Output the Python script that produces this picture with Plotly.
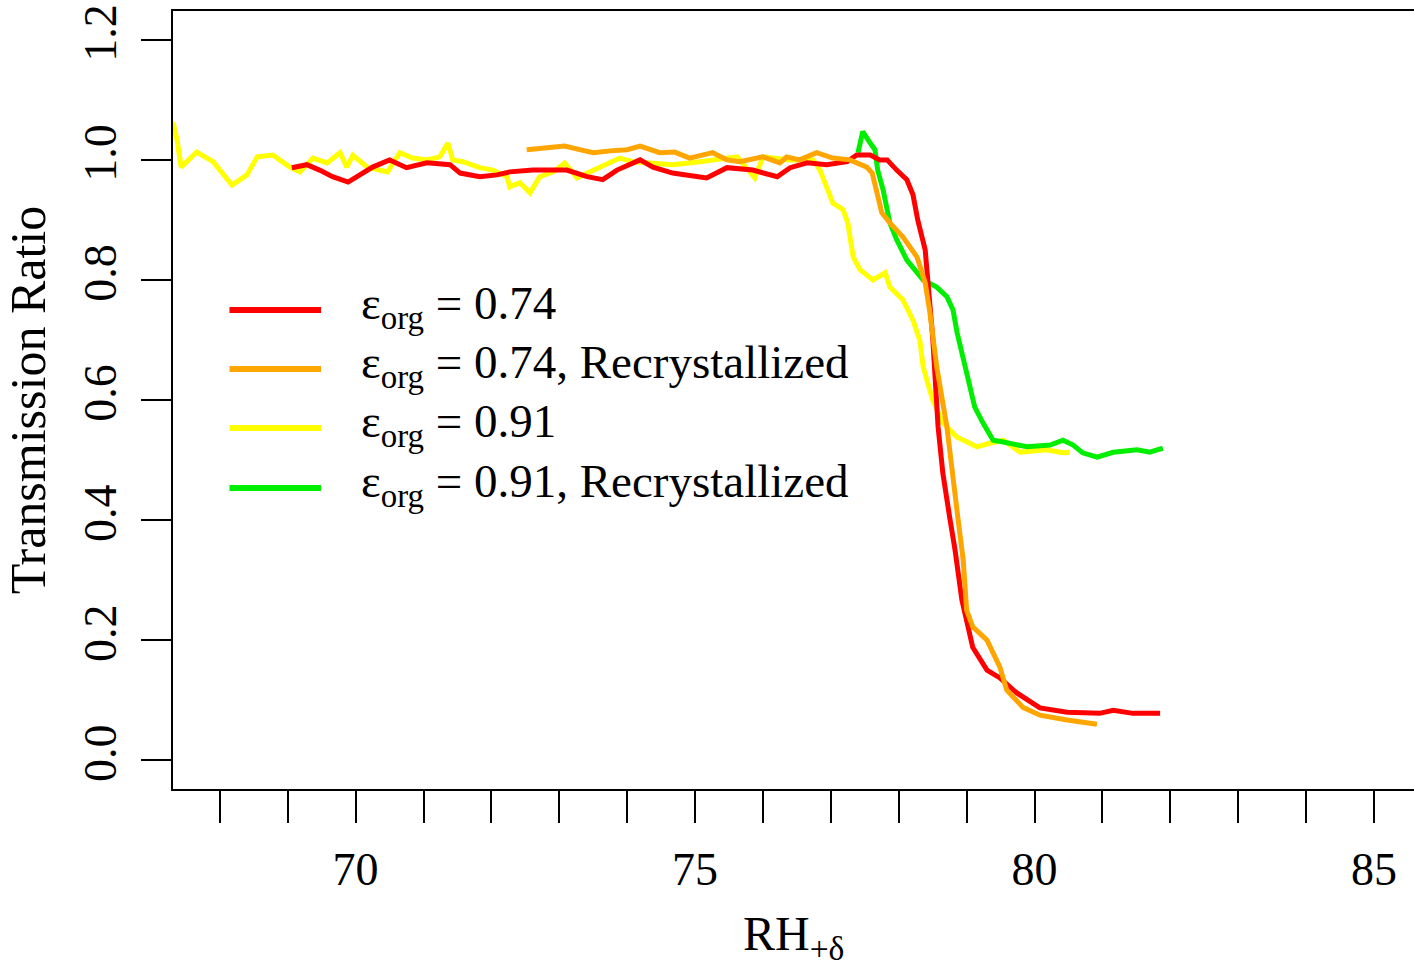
import plotly.graph_objects as go

# ---- data ----
red_x = [69.06, 69.28, 69.47, 69.66, 69.89, 70.06, 70.25, 70.50, 70.75, 71.05, 71.39, 71.54, 71.83, 72.08,
         72.27, 72.61, 73.11, 73.41, 73.64, 73.85, 74.19, 74.38, 74.67, 75.17, 75.47, 75.85, 76.21, 76.40,
         76.65, 76.94, 77.24, 77.38, 77.58, 77.72, 77.83, 77.97, 78.12, 78.21, 78.28, 78.39, 78.43, 78.50,
         78.58, 78.65, 78.75, 78.83, 78.93, 79.00, 79.09, 79.30, 79.49, 79.74, 80.08, 80.48, 80.96, 81.16,
         81.45, 81.85]
red_y = [0.987, 0.992, 0.983, 0.972, 0.963, 0.975, 0.988, 1.000, 0.987, 0.995, 0.992, 0.978, 0.972, 0.975,
         0.980, 0.983, 0.983, 0.972, 0.967, 0.983, 1.000, 0.988, 0.978, 0.970, 0.987, 0.983, 0.972, 0.987,
         0.995, 0.992, 0.997, 1.008, 1.008, 1.000, 1.000, 0.983, 0.967, 0.942, 0.900, 0.850, 0.790, 0.705,
         0.555, 0.478, 0.405, 0.350, 0.267, 0.228, 0.188, 0.150, 0.137, 0.112, 0.087, 0.080, 0.078, 0.083,
         0.078, 0.078]

orange_x = [72.52, 72.79, 73.08, 73.30, 73.50, 73.75, 74.00, 74.19, 74.48, 74.70, 74.92, 75.26, 75.47, 75.66,
            76.00, 76.25, 76.35, 76.54, 76.79, 77.03, 77.28, 77.53, 77.61, 77.68, 77.75, 77.87, 78.06, 78.27,
            78.39, 78.46, 78.56, 78.71, 78.80, 78.87, 78.95, 79.00, 79.09, 79.30, 79.49, 79.59, 79.83, 80.08,
            80.48, 80.92]
orange_y = [1.017, 1.020, 1.023, 1.017, 1.012, 1.015, 1.017, 1.023, 1.012, 1.013, 1.003, 1.012, 1.000, 0.997,
            1.005, 0.995, 1.005, 1.000, 1.012, 1.003, 1.000, 0.988, 0.978, 0.945, 0.912, 0.895, 0.872, 0.838,
            0.795, 0.745, 0.655, 0.555, 0.478, 0.405, 0.333, 0.250, 0.222, 0.200, 0.155, 0.117, 0.088, 0.075,
            0.067, 0.060]

yellow_x = [67.31, 67.37, 67.43, 67.66, 67.90, 68.18, 68.40, 68.55, 68.78, 69.03, 69.18, 69.37, 69.58, 69.77,
            69.87, 69.96, 70.17, 70.36, 70.47, 70.65, 70.84, 71.05, 71.24, 71.36, 71.43, 71.58, 71.83, 72.02,
            72.23, 72.27, 72.42, 72.57, 72.71, 72.91, 73.08, 73.26, 73.45, 73.70, 73.89, 74.08, 74.33, 74.67,
            75.07, 75.62, 75.88, 76.00, 76.40, 76.74, 76.84, 76.96, 77.03, 77.18, 77.25, 77.33, 77.43, 77.62,
            77.80, 77.87, 78.06, 78.21, 78.31, 78.36, 78.50, 78.65, 78.86, 79.01, 79.15, 79.34, 79.54, 79.79,
            80.18, 80.42, 80.52]
yellow_y = [1.063, 1.033, 0.988, 1.013, 0.997, 0.958, 0.975, 1.005, 1.008, 0.988, 0.980, 1.003, 0.995, 1.012,
            0.988, 1.008, 0.988, 0.983, 0.980, 1.012, 1.003, 1.000, 1.005, 1.028, 1.000, 0.997, 0.987, 0.983,
            0.972, 0.955, 0.962, 0.945, 0.972, 0.980, 0.995, 0.970, 0.980, 0.995, 1.003, 0.997, 0.995, 0.992,
            0.997, 1.005, 0.970, 1.005, 1.000, 1.000, 0.983, 0.945, 0.928, 0.917, 0.895, 0.838, 0.817, 0.800,
            0.812, 0.788, 0.767, 0.733, 0.700, 0.655, 0.600, 0.562, 0.538, 0.530, 0.522, 0.528, 0.533, 0.513,
            0.517, 0.512, 0.513]

green_x = [77.40, 77.47, 77.58, 77.65, 77.69, 77.77, 77.87, 77.97, 78.12, 78.36, 78.56, 78.71, 78.80, 78.86,
           78.98, 79.05, 79.12, 79.24, 79.39, 79.54, 79.89, 80.23, 80.42, 80.57, 80.71, 80.92, 81.16, 81.51,
           81.70, 81.89]
green_y = [1.012, 1.047, 1.028, 1.017, 0.983, 0.950, 0.895, 0.867, 0.833, 0.800, 0.788, 0.772, 0.750, 0.712,
           0.655, 0.622, 0.588, 0.562, 0.533, 0.530, 0.522, 0.525, 0.533, 0.525, 0.512, 0.505, 0.513, 0.517,
           0.513, 0.520]

series_names = ["ε<sub>org</sub> = 0.74", "ε<sub>org</sub> = 0.74, Recrystallized",
                "ε<sub>org</sub> = 0.91", "ε<sub>org</sub> = 0.91, Recrystallized"]
series_colors = ["#ff0000", "#ffa500", "#ffff00", "#00ee00"]

x_tickvals = [70, 75, 80, 85]
y_tickvals = [0.0, 0.2, 0.4, 0.6, 0.8, 1.0, 1.2]
x_title = "RH<sub>+δ</sub>"
y_title = "Transmission Ratio"

FONT = "Liberation Serif"

fig = go.Figure()
data = {
    0: (red_x, red_y),
    1: (orange_x, orange_y),
    2: (yellow_x, yellow_y),
    3: (green_x, green_y),
}
for i in [2, 3, 0, 1]:
    xs, ys = data[i]
    fig.add_trace(go.Scatter(x=xs, y=ys, mode="lines", name=series_names[i],
                             line=dict(color=series_colors[i], width=5), showlegend=False))

# manual legend (R style)
leg_rows = [0.6157, 0.5398, 0.4640, 0.3869]
for i, yy in enumerate(leg_rows):
    fig.add_shape(type="line", xref="paper", yref="paper", x0=0.0455, x1=0.1193, y0=yy, y1=yy,
                  line=dict(color=series_colors[i], width=6))
    fig.add_annotation(xref="paper", yref="paper", x=0.1495, y=yy + 0.004, xanchor="left", yanchor="middle",
                       text=series_names[i], showarrow=False,
                       font=dict(family=FONT, size=47, color="black"))

# x-axis title (placed as R does, below the tick labels)
fig.add_annotation(xref="paper", yref="paper", x=0.5, y=-0.19, xanchor="center", yanchor="middle",
                   text=x_title, showarrow=False, font=dict(family=FONT, size=48, color="black"))

fig.update_layout(
    width=1414, height=969,
    margin=dict(l=173, r=0, t=11, b=180),
    paper_bgcolor="white", plot_bgcolor="white",
    font=dict(family=FONT, color="black"),
    xaxis=dict(range=[67.31, 85.59], tickvals=x_tickvals,
               ticks="outside", ticklen=32, tickwidth=1.5, tickcolor="black",
               minor=dict(ticks="outside", ticklen=32, tickwidth=1.5, tickcolor="black",
                          tick0=68, dtick=1, showgrid=False),
               showline=True, linewidth=2, linecolor="black", mirror=True,
               showgrid=False, zeroline=False, automargin=False,
               tickfont=dict(family=FONT, size=46), ticklabelstandoff=7),
    yaxis=dict(range=[-0.048, 1.248], tickvals=y_tickvals, tickformat=".1f",
               ticks="outside", ticklen=30, tickwidth=1.5, tickcolor="black",
               showline=True, linewidth=2, linecolor="black", mirror=False,
               showgrid=False, zeroline=False, tickangle=-90, automargin=False,
               tickfont=dict(family=FONT, size=46), ticklabelstandoff=7,
               title=dict(text=y_title, font=dict(family=FONT, size=50), standoff=30)),
)

fig.write_html("out.html")
